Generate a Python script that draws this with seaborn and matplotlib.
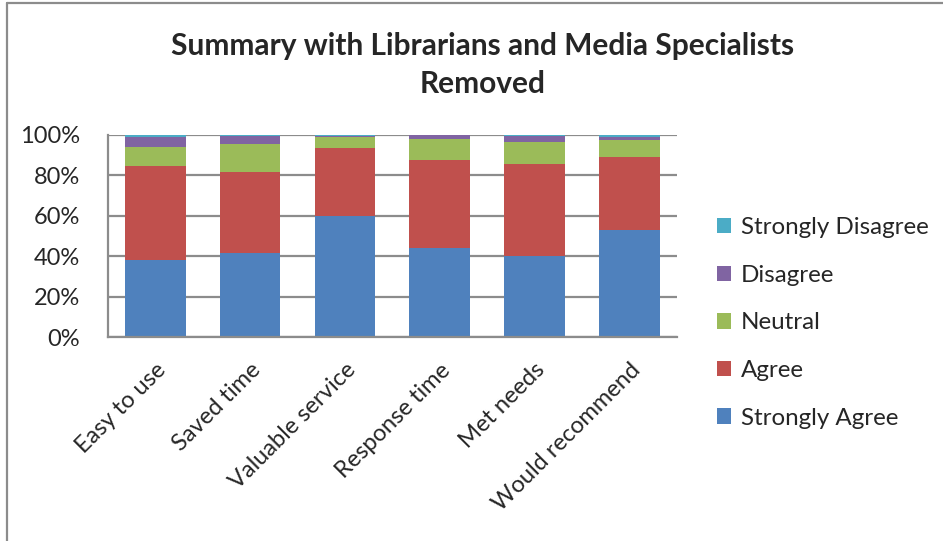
import numpy as np
import pandas as pd
import matplotlib
matplotlib.use('Agg')
import matplotlib.pyplot as plt
import seaborn as sns
from matplotlib.lines import Line2D
from matplotlib.patches import Patch

# --- data (percent of respondents) ---
categories = ['Easy to use', 'Saved time', 'Valuable service',
              'Response time', 'Met needs', 'Would recommend']
strongly_agree = [38.0, 41.6, 60.1, 44.2, 40.3, 53.1]
agree = [46.5, 40.2, 33.6, 43.6, 45.2, 36.2]
neutral = [9.6, 13.6, 5.1, 10.4, 10.9, 8.1]
disagree = [4.8, 4.0, 0.8, 1.8, 3.2, 1.6]
strongly_disagree = [1.1, 0.6, 0.4, 0.0, 0.4, 1.0]

series_names = ['Strongly Agree', 'Agree', 'Neutral', 'Disagree', 'Strongly Disagree']
series_vals = [strongly_agree, agree, neutral, disagree, strongly_disagree]
colors = ['#4F81BD', '#C0504D', '#9BBB59', '#8064A2', '#4BACC6']

sns.set_theme(style='white')
plt.rcParams['font.family'] = ['Lato', 'DejaVu Sans']

df = pd.DataFrame(dict(zip(series_names, series_vals)), index=categories)
# 100% stacked: normalise rows, then cumulate
df = df.div(df.sum(axis=1), axis=0)
cum = df.cumsum(axis=1)

fig = plt.figure(figsize=(9.43, 5.41), dpi=100)
ax = fig.add_axes([0.1145, 0.377, 0.603, 0.3735])

# draw from top layer down so each shorter bar covers the one behind
for name, col in reversed(list(zip(series_names, colors))):
    sns.barplot(x=categories, y=cum[name].values, color=col, width=0.64,
                saturation=1, ax=ax, zorder=2, linewidth=0)

ax.set_ylim(0, 1)
ax.set_xlim(-0.5, len(categories) - 0.5)
ax.set_yticks(np.arange(0, 1.01, 0.2))
ax.set_yticklabels([f'{int(round(v * 100))}%' for v in np.arange(0, 1.01, 0.2)], fontsize=17)
ax.yaxis.grid(True, color='#8c8c8c', linewidth=1.6, zorder=0)
ax.set_axisbelow(True)
ax.tick_params(axis='y', length=0, pad=20)
ax.tick_params(axis='x', length=0, pad=16)
ax.set_xticks(range(len(categories)))
ax.set_xticklabels(categories, rotation=45, ha='right', rotation_mode='anchor', fontsize=17)
for side in ['top', 'right']:
    ax.spines[side].set_visible(False)
for side in ['left', 'bottom']:
    ax.spines[side].set_color('#8c8c8c')
    ax.spines[side].set_linewidth(1.6)

fig.text(0.512, 0.880, 'Summary with Librarians and Media Specialists\nRemoved',
         ha='center', va='center', fontsize=21.5, fontweight='bold', linespacing=1.4)

handles = [Patch(facecolor=c, edgecolor='none') for c in reversed(colors)]
leg = fig.legend(handles, list(reversed(series_names)), loc='center left',
                 bbox_to_anchor=(0.737, 0.403), frameon=False, fontsize=17.4,
                 handlelength=0.6, handleheight=0.6, handletextpad=0.4,
                 labelspacing=1.1)

# chart frame (only left and top edges visible in the crop)
fig.add_artist(Line2D([0.0075, 0.0075], [0, 0.994], color='#8c8c8c', linewidth=1.6))
fig.add_artist(Line2D([0.0075, 1.0], [0.994, 0.994], color='#8c8c8c', linewidth=1.6))

fig.savefig('out.png', dpi=100)
